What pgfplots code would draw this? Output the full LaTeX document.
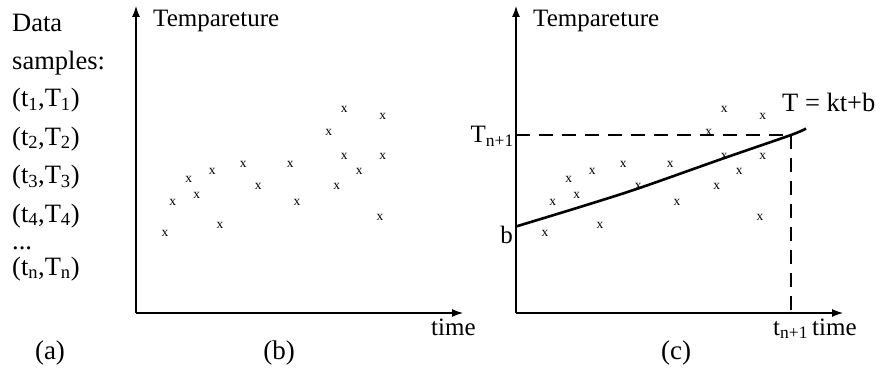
\documentclass[border=0pt]{standalone}
\usepackage{fontspec}
\setmainfont{Liberation Serif}
\usepackage{pgfplots}
\pgfplotsset{compat=1.18}
\usetikzlibrary{arrows.meta}

\pgfplotstableread{
t T
29 79.7
36.7 110.3
52.7 134
60.7 118
76.3 142
84 87.3
107.3 149
122.3 126.3
154.3 149
161 110.3
192.7 180.3
208.3 204
208.3 157
200.7 126.3
223.3 142
246.7 196.3
246.7 157
244 95.3
}\samples

\newcommand\lbl{\fontsize{25}{30}\selectfont}
\newcommand\albl{\fontsize{26.5}{30}\selectfont}

\begin{document}
\begin{tikzpicture}[x=1pt,y=1pt]
\useasboundingbox (0,0) rectangle (880,370);
\pgfplotsset{panel/.style={
  at={(#1,57)}, anchor=south west,
  scale only axis, width=327pt, height=307pt,
  xmin=0, xmax=327, ymin=0, ymax=307,
  axis lines=none,
  xtick=\empty, ytick=\empty, clip=false,
}}
% panel (b)
\begin{axis}[panel=136]
\draw[line width=1.1pt, -{Latex[length=11pt,width=8pt]}] (axis cs:0,0) -- (axis cs:327,0);
\draw[line width=1.1pt, -{Latex[length=11pt,width=8pt]}] (axis cs:0,0) -- (axis cs:0,307);
\addplot[only marks, mark=text, text mark={\fontsize{13.5}{13.5}\selectfont x}] table[x=t,y=T] {\samples};
\end{axis}
% panel (c)
\begin{axis}[panel=516]
\draw[line width=1.1pt, -{Latex[length=11pt,width=8pt]}] (axis cs:0,0) -- (axis cs:327,0);
\draw[line width=1.1pt, -{Latex[length=11pt,width=8pt]}] (axis cs:0,0) -- (axis cs:0,307);
\addplot[only marks, mark=text, text mark={\fontsize{13.5}{13.5}\selectfont x}] table[x=t,y=T] {\samples};
\addplot[line width=1.6pt, dash pattern=on 14pt off 9pt] coordinates {(0,178) (275,178)};
\addplot[line width=1.6pt, dash pattern=on 14pt off 9pt] coordinates {(275,178) (275,3)};
\addplot[line width=2.6pt, smooth] coordinates {(0,86.5) (64,106) (122,124.5) (207,154.5) (275,178) (290,184.5)};
\end{axis}

% panel (a) text and labels
\begin{scope}[every node/.style={inner sep=0pt, font=\lbl}]
\node[anchor=base west, font=\albl] at (12,338) {Data};
\node[anchor=base west, font=\albl] at (12,300) {samples:};
\node[anchor=base west, font=\albl] at (12,263) {(t\textsubscript{1},T\textsubscript{1})};
\node[anchor=base west, font=\albl] at (12,225) {(t\textsubscript{2},T\textsubscript{2})};
\node[anchor=base west, font=\albl] at (12,186) {(t\textsubscript{3},T\textsubscript{3})};
\node[anchor=base west, font=\albl] at (12,148) {(t\textsubscript{4},T\textsubscript{4})};
\node[anchor=base west, font=\albl] at (12,121) {...};
\node[anchor=base west, font=\albl] at (12,95) {(t\textsubscript{n},T\textsubscript{n})};
\node[anchor=base, font=\fontsize{27}{30}\selectfont] at (50,11) {(a)};
\node[anchor=base, font=\fontsize{27}{30}\selectfont] at (279,11) {(b)};
\node[anchor=base, font=\fontsize{27}{30}\selectfont] at (676,11) {(c)};
\node[anchor=base west] at (153,343) {Tempareture};
\node[anchor=base west] at (533,343) {Tempareture};
\node[anchor=base west] at (431,35) {time};
\node[anchor=base west] at (812,35) {time};
\node[anchor=base west] at (773,35) {t\textsubscript{n+1}};
\node[anchor=base east] at (514,227) {T\textsubscript{n+1}};
\node[anchor=base east] at (513,127) {b};
\node[anchor=base west, font=\fontsize{26.5}{30}\selectfont] at (782,258) {T = kt+b};
\end{scope}
\end{tikzpicture}
\end{document}
